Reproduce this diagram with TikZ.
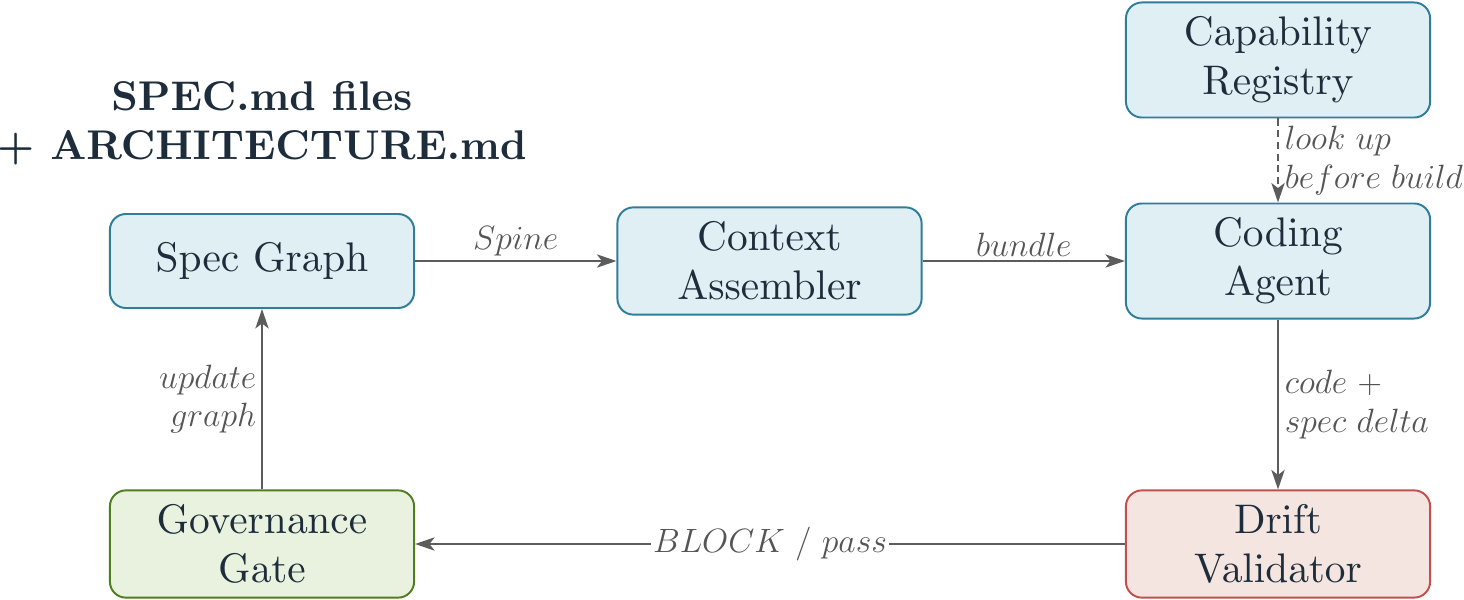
\documentclass[tikz,border=0pt]{standalone}
\usetikzlibrary{arrows.meta}
\definecolor{txt}{HTML}{1E2D3B}
\definecolor{bluefill}{HTML}{E0EFF3}
\definecolor{blueline}{HTML}{2E7D9A}
\definecolor{redfill}{HTML}{F5E5E1}
\definecolor{redline}{HTML}{C0504D}
\definecolor{greenfill}{HTML}{E9F2DF}
\definecolor{greenline}{HTML}{4E7E1F}
\definecolor{edgec}{HTML}{5C5C5C}
\definecolor{lblc}{HTML}{555555}
\font\nodefnt=cmr10 at 21.2pt
\font\titlefnt=cmbx10 at 21.3pt
\tikzset{
  box/.style={rounded corners=8.2pt, line width=1pt, minimum width=156pt,
    align=center, text=txt, inner xsep=4pt, inner ysep=2pt,
    font={\fontsize{21.2}{25}\selectfont\nodefnt}},
  bluebox/.style={box, draw=blueline, fill=bluefill},
  redbox/.style={box, draw=redline, fill=redfill},
  greenbox/.style={box, draw=greenline, fill=greenfill},
  conn/.style={draw=edgec, line width=1pt, -{Stealth[length=10pt,width=6.8pt,inset=2.6pt]}},
  dashconn/.style={conn, dash pattern=on 3.6pt off 2.4pt},
  lbl/.style={text=lblc, font=\fontsize{17.5}{19.7}\selectfont, inner sep=2pt},
  titletext/.style={text=txt, align=center, inner sep=0pt,
    font={\fontsize{21.3}{25.1}\selectfont\titlefnt}}
}
\begin{document}
\begin{tikzpicture}[x=0.51282pt, y=-0.51282pt]
\useasboundingbox (0,0) rectangle (1464,600);

\node[titletext] (title) at (262,123) {SPEC.md files\\+ ARCHITECTURE.md};

\node[bluebox, minimum height=59pt] (reg) at (1278,60) {Capability\\Registry};
\node[bluebox, minimum height=59pt] (agent) at (1278,261) {Coding\\Agent};
\node[bluebox, minimum height=55pt] (ctx) at (769.5,261) {Context\\Assembler};
\node[bluebox, minimum height=48.2pt] (spec) at (262,261) {Spec Graph};
\node[greenbox, minimum height=55pt] (gov) at (262,544) {Governance\\Gate};
\node[redbox, minimum height=55pt] (drift) at (1278,544) {Drift\\Validator};

\draw[conn] (spec) -- node[lbl, above] (lspine) {$Spine$} (ctx);
\draw[conn] (ctx) -- node[lbl, above] (lbundle) {$bundle$} (agent);
\draw[dashconn] (reg) -- node[lbl, right, align=left, xshift=1pt] (llook) {$look\ up$\\$before\ build$} (agent);
\draw[conn] (agent) -- node[lbl, right, align=left, xshift=1pt] (lcode) {$code\ +$\\$spec\ delta$} (drift);
\draw[conn] (drift) -- node[lbl, fill=white, inner xsep=1pt] (lblock) {$BLOCK\ /\ pass$} (gov);
\draw[conn] (gov) -- node[lbl, left, align=right, xshift=-0.5pt] (lupd) {$update$\\$graph$} (spec);
\end{tikzpicture}
\end{document}
